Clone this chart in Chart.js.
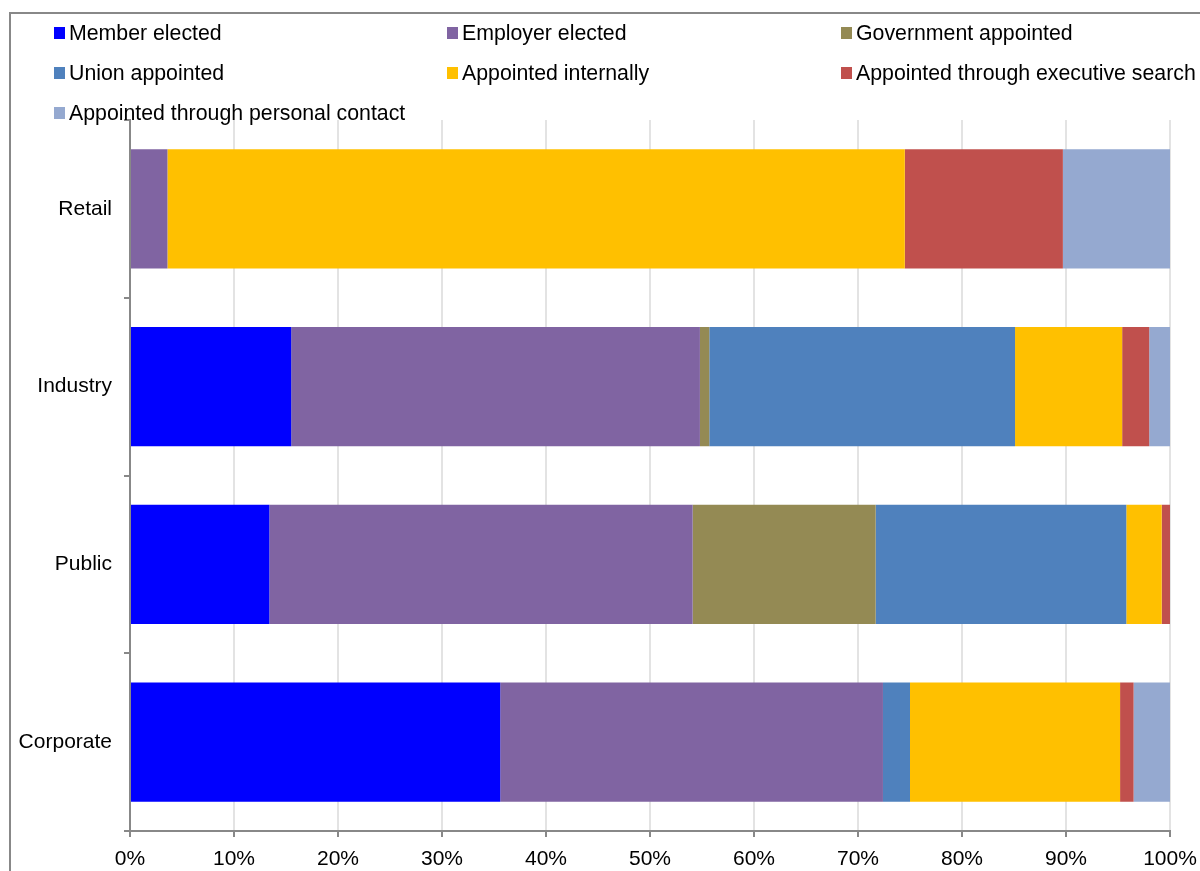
<!DOCTYPE html>
<html>
<head>
<meta charset="utf-8">
<script src="https://cdn.jsdelivr.net/npm/chart.js@4.4.1/dist/chart.umd.min.js"></script>
<style>
  html, body { margin: 0; padding: 0; background: #fff; }
  #wrap { position: relative; width: 1200px; height: 871px; overflow: hidden; }
  #frame {
    position: absolute; left: 9px; top: 12px; width: 1300px; height: 1000px;
    border-left: 2px solid #888; border-top: 2px solid #888;
  }
  #chart { position: absolute; left: 0; top: 0; }
  #legend {
    position: absolute; left: 54px; top: 13px;
    display: grid; grid-template-columns: 393px 394px 360px; grid-auto-rows: 40px;
    font-family: "Liberation Sans", Arial, sans-serif; font-size: 21.3px; color: #000;
  }
  .item { display: flex; align-items: center; white-space: nowrap; }
  .box { width: 11px; height: 12px; margin-right: 4px; flex: none; }
</style>
</head>
<body>
<div id="wrap">
  <div id="frame"></div>
  <canvas id="chart" width="1200" height="871"></canvas>
  <div id="legend"></div>
</div>
<script>
// categories top to bottom
const sectors = ['Retail', 'Industry', 'Public', 'Corporate'];

// share of board members (%) per appointment route
const memberElected = [0, 15.5, 13.4, 35.6];
const employerElected = [3.6, 39.3, 40.7, 36.8];
const governmentAppointed = [0, 0.9, 17.6, 0];
const unionAppointed = [0, 29.4, 24.1, 2.6];
const appointedInternally = [70.9, 10.3, 3.4, 20.2];
const executiveSearch = [15.2, 2.6, 0.8, 1.3];
const personalContact = [10.3, 2.0, 0, 3.5];

const xTicks = [0, 10, 20, 30, 40, 50, 60, 70, 80, 90, 100];

const series = [
  { label: 'Member elected', data: memberElected, color: '#0000FF' },
  { label: 'Employer elected', data: employerElected, color: '#8064A2' },
  { label: 'Government appointed', data: governmentAppointed, color: '#948A54' },
  { label: 'Union appointed', data: unionAppointed, color: '#4F81BD' },
  { label: 'Appointed internally', data: appointedInternally, color: '#FFC000' },
  { label: 'Appointed through executive search', data: executiveSearch, color: '#C0504D' },
  { label: 'Appointed through personal contact', data: personalContact, color: '#95A9D0' },
];

const legend = document.getElementById('legend');
series.forEach((s) => {
  const item = document.createElement('div');
  item.className = 'item';
  item.innerHTML = `<span class="box" style="background:${s.color}"></span><span>${s.label}</span>`;
  legend.appendChild(item);
});

const font = { family: '"Liberation Sans", Arial, sans-serif', size: 21 };

new Chart(document.getElementById('chart'), {
  type: 'bar',
  data: {
    labels: sectors,
    datasets: series.map((s) => ({
      label: s.label,
      data: s.data,
      backgroundColor: s.color,
      borderWidth: 0,
      barPercentage: 0.67,
      categoryPercentage: 1,
    })),
  },
  options: {
    indexAxis: 'y',
    responsive: false,
    animation: false,
    layout: { padding: { top: 120, left: 10, right: 30, bottom: 0 } },
    plugins: { legend: { display: false }, tooltip: { enabled: false } },
    scales: {
      x: {
        stacked: true,
        min: 0,
        max: 100,
        afterBuildTicks: (scale) => {
          scale.ticks = xTicks.map((v) => ({ value: v }));
        },
        afterFit: (scale) => {
          scale.height = 40;
          scale.paddingLeft = 0;
          scale.paddingRight = 0;
        },
        border: { color: '#888', width: 2 },
        grid: { color: '#e3e3e3', lineWidth: 2, tickColor: '#888', tickLength: 6 },
        ticks: {
          color: '#000',
          font: font,
          padding: 10,
          maxRotation: 0,
          callback: (v) => v + '%',
        },
      },
      y: {
        stacked: true,
        afterFit: (scale) => {
          scale.width = 120;
          scale.paddingTop = 0;
          scale.paddingBottom = 0;
        },
        border: { color: '#888', width: 2 },
        grid: { offset: true, drawOnChartArea: false, tickColor: '#888', tickLength: 6, lineWidth: 2 },
        ticks: { color: '#000', font: font, padding: 12 },
      },
    },
  },
});
</script>
</body>
</html>
